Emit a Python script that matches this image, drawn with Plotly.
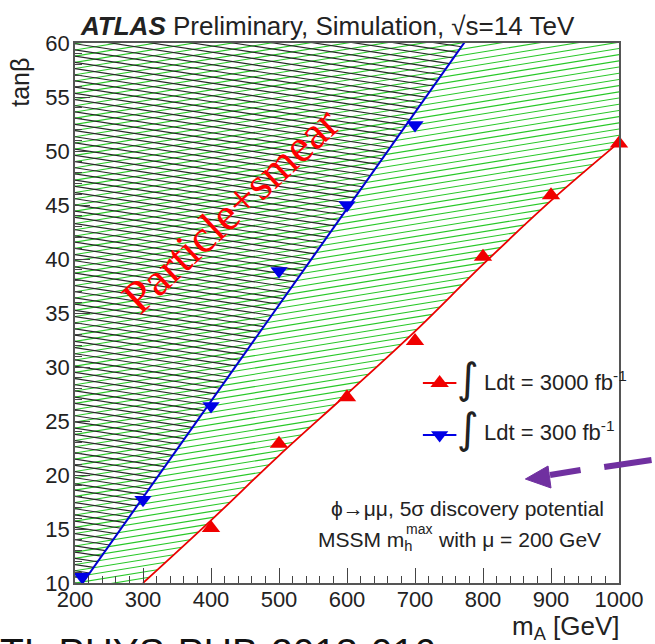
import numpy as np
import plotly.graph_objects as go

# ---------------- data ----------------
mA_3000 = [400, 500, 600, 700, 800, 900, 1000]
tb_3000 = [15.1, 22.9, 27.2, 32.4, 40.2, 45.9, 50.7]
mA_300 = [210, 300, 400, 500, 600, 700]
tb_300 = [10.6, 17.7, 26.4, 38.9, 45.0, 52.4]
# fitted 5-sigma contours
fit3000_x = [300, 400, 500, 600, 700, 800, 900, 1000]
fit3000_y = [10.0, 15.8, 21.8, 27.5, 33.3, 39.5, 45.4, 50.8]
fit300_x = [200, 780]
fit300_y = [9.0, 60.7]
x_ticks = [200, 300, 400, 500, 600, 700, 800, 900, 1000]
y_ticks = [10, 15, 20, 25, 30, 35, 40, 45, 50, 55, 60]

# ---------------- geometry ----------------
W, H = 655, 644
ML, MR, MT, MB = 75, 28, 43, 61
PW, PH = W - ML - MR, H - MT - MB
XR, YR = (200, 1000), (10, 60)
gx = (XR[1] - XR[0]) / PW
gy = (YR[1] - YR[0]) / PH


def px(x):
    return (x - ML) / PW


def py(y):
    return (H - MB - y) / PH


def curve(xs, cx, cy):
    cx = np.asarray(cx, float)
    cy = np.asarray(cy, float)
    y = np.interp(xs, cx, cy)
    sl0 = (cy[1] - cy[0]) / (cx[1] - cx[0])
    sl1 = (cy[-1] - cy[-2]) / (cx[-1] - cx[-2])
    lo, hi = xs < cx[0], xs > cx[-1]
    y[lo] = cy[0] + sl0 * (xs[lo] - cx[0])
    y[hi] = cy[-1] + sl1 * (xs[hi] - cx[-1])
    return y


def hatch(cx, cy, slope_px, spacing_px):
    s = slope_px * gy / gx
    dc = spacing_px * gy
    xs = np.linspace(150, 1100, 5000)
    cv = curve(xs, cx, cy)
    X, Y = [], []
    span = abs(s) * (XR[1] - XR[0] + 100)
    for c in np.arange(YR[0] - span - 2 * dc, YR[1] + span + 2 * dc, dc):
        ly = c + s * (xs - XR[0])
        d = ly - cv
        idx = np.where(d <= 0)[0]
        if len(idx) == 0:
            xe = xs[-1]
        else:
            i = idx[0]
            if i == 0:
                continue
            xe = xs[i - 1] + (xs[i] - xs[i - 1]) * d[i - 1] / (d[i - 1] - d[i])
        X += [xs[0], xe, None]
        Y += [c + s * (xs[0] - XR[0]), c + s * (xe - XR[0]), None]
    return X, Y


fig = go.Figure()

gxh, gyh = hatch(fit3000_x, fit3000_y, 0.16, 6.2)
fig.add_trace(go.Scatter(x=gxh, y=gyh, mode="lines",
                         line=dict(color="rgb(40,200,40)", width=1.1),
                         hoverinfo="skip", showlegend=False))
bxh, byh = hatch(fit300_x, fit300_y, -0.15, 6.2)
fig.add_trace(go.Scatter(x=bxh, y=byh, mode="lines",
                         line=dict(color="rgb(40,40,40)", width=1.15),
                         hoverinfo="skip", showlegend=False))

fig.add_trace(go.Scatter(x=fit3000_x, y=fit3000_y, mode="lines",
                         line=dict(color="rgb(235,0,0)", width=1.8, shape="spline"),
                         hoverinfo="skip", showlegend=False))
fig.add_trace(go.Scatter(x=fit300_x, y=fit300_y, mode="lines",
                         line=dict(color="rgb(0,0,210)", width=2),
                         hoverinfo="skip", showlegend=False))
fig.add_trace(go.Scatter(x=mA_3000, y=tb_3000, mode="markers",
                         marker=dict(symbol="triangle-up", size=16, color="rgb(240,0,0)"),
                         showlegend=False, cliponaxis=False))
fig.add_trace(go.Scatter(x=mA_300, y=tb_300, mode="markers",
                         marker=dict(symbol="triangle-down", size=15, color="rgb(0,0,230)"),
                         showlegend=False, cliponaxis=False))

# legend samples on a pixel-coordinate overlay axis
leg_y = [383, 435]
fig.add_trace(go.Scatter(x=[428, 462], y=[leg_y[0]] * 2, mode="lines",
                         line=dict(color="rgb(240,0,0)", width=1.8),
                         xaxis="x2", yaxis="y2", showlegend=False, hoverinfo="skip"))
fig.add_trace(go.Scatter(x=[445], y=[leg_y[0]], mode="markers",
                         marker=dict(symbol="triangle-up", size=16, color="rgb(240,0,0)"),
                         xaxis="x2", yaxis="y2", showlegend=False, hoverinfo="skip"))
fig.add_trace(go.Scatter(x=[428, 462], y=[leg_y[1]] * 2, mode="lines",
                         line=dict(color="rgb(0,0,230)", width=1.8),
                         xaxis="x2", yaxis="y2", showlegend=False, hoverinfo="skip"))
fig.add_trace(go.Scatter(x=[445], y=[leg_y[1]], mode="markers",
                         marker=dict(symbol="triangle-down", size=15, color="rgb(0,0,230)"),
                         xaxis="x2", yaxis="y2", showlegend=False, hoverinfo="skip"))

TXT = "#222222"
SANS = "Liberation Sans, Arial, sans-serif"
ann = []


def A(text, x, y, size, xa="center", ya="middle", color=TXT, family=SANS, angle=0):
    ann.append(dict(text=text, x=px(x), y=py(y), xref="paper", yref="paper",
                    xanchor=xa, yanchor=ya, showarrow=False, textangle=angle,
                    font=dict(size=size, color=color, family=family)))


A("<b><i>ATLAS</i></b> Preliminary, Simulation, √s=14 TeV", 331, 26, 26)
A("tanβ", 19, 82, 25, angle=-90)
A("m<sub>A</sub> [GeV]", 630, 627, 26, xa="right")
A("Particle+smear", 232, 210, 46, color="rgb(255,0,0)",
  family="Liberation Serif, Times New Roman, serif", angle=-43)
A("∫", 474, 378, 42, family="DejaVu Sans")
A("Ldt = 3000 fb<sup>-1</sup>", 488, 381, 22, xa="left")
A("∫", 474, 428, 42, family="DejaVu Sans")
A("Ldt = 300 fb<sup>-1</sup>", 488, 431, 22, xa="left")
A("ϕ→μμ, 5σ discovery potential", 614, 508, 21, xa="right")
A("with μ = 200 GeV", 611, 539, 21, xa="right")
A("MSSM m<sub>h</sub>", 420, 541, 21, xa="right")
A("max", 409, 529, 14, xa="left")
A("ATL-PHYS-PUB-2013-016", -26, 629, 39, xa="left", ya="top", color="#111111")

# purple dashed arrow (slide decoration)
PUR = "rgb(112,48,160)"
shapes = [
    dict(type="line", xref="paper", yref="paper", x0=px(557), y0=py(475), x1=px(588), y1=py(470),
         line=dict(color=PUR, width=6)),
    dict(type="line", xref="paper", yref="paper", x0=px(612), y0=py(467), x1=px(660), y1=py(460),
         line=dict(color=PUR, width=6)),
    dict(type="path", xref="paper", yref="paper",
         path=f"M {px(532)},{py(479)} L {px(555)},{py(466)} L {px(558)},{py(488)} Z",
         fillcolor=PUR, line=dict(color=PUR, width=1)),
]

axis_common = dict(showgrid=False, zeroline=False, showline=True, linecolor="#555555",
                   linewidth=1.5, mirror=True, ticks="inside", ticklen=15, tickwidth=1,
                   tickcolor="#444444", tickfont=dict(size=22, color=TXT, family=SANS))

fig.update_layout(
    width=W, height=H, margin=dict(l=ML, r=MR, t=MT, b=MB),
    paper_bgcolor="white", plot_bgcolor="white",
    xaxis=dict(range=list(XR), tickvals=x_ticks, ticklabelstandoff=-4, **axis_common,
               minor=dict(dtick=20, ticklen=7, ticks="inside", tickcolor="#444444")),
    yaxis=dict(range=list(YR), tickvals=y_ticks, ticklabelstandoff=-1, **axis_common,
               minor=dict(dtick=1, ticklen=7, ticks="inside", tickcolor="#444444")),
    xaxis2=dict(overlaying="x", range=[ML, W - MR], visible=False),
    yaxis2=dict(overlaying="y", range=[H - MB, MT], visible=False),
    annotations=ann, shapes=shapes, showlegend=False,
)

fig.write_html("out.html")
